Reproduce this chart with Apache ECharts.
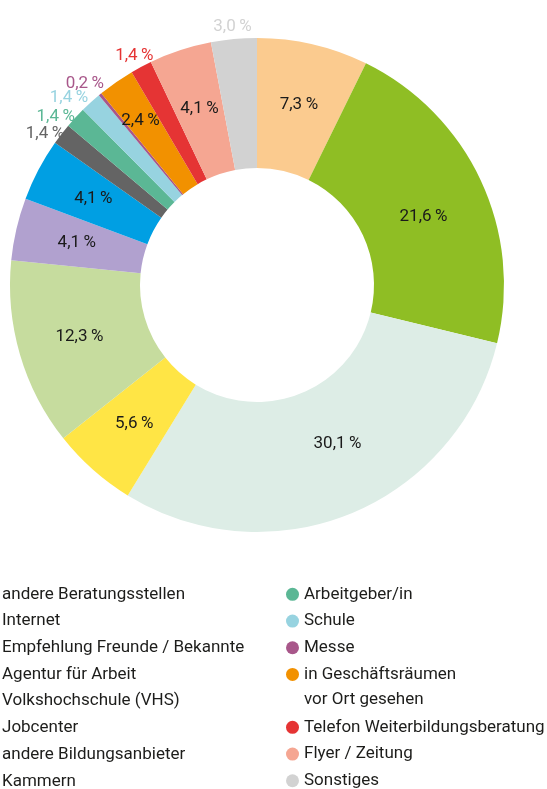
<!DOCTYPE html>
<html>
<head>
<meta charset="utf-8">
<script src="https://cdn.jsdelivr.net/npm/echarts@6/dist/echarts.min.js"></script>
<style>
  html, body { margin: 0; padding: 0; background: #fff; }
  #chart { width: 547px; height: 789px; }
</style>
</head>
<body>
<div id="chart"></div>
<script>
// Kategorien im Uhrzeigersinn ab 12 Uhr
var categories = [
  'andere Beratungsstellen', 'Internet', 'Empfehlung Freunde / Bekannte',
  'Agentur für Arbeit', 'Volkshochschule (VHS)', 'Jobcenter',
  'andere Bildungsanbieter', 'Kammern', 'Arbeitgeber/in', 'Schule', 'Messe',
  'in Geschäftsräumen', 'Telefon Weiterbildungsberatung', 'Flyer / Zeitung', 'Sonstiges'
]
var values = [7.3, 21.6, 30.1, 5.6, 12.3, 4.1, 4.1, 1.4, 1.4, 1.4, 0.2, 2.4, 1.4, 4.1, 3.0]
var colors = [
  '#fbcb8f', '#8fbe24', '#ddede6', '#ffe545', '#c6dc9e', '#b1a1cf',
  '#009fe3', '#646464', '#5bb795', '#97d3e0', '#a8578a',
  '#f29100', '#e53434', '#f5a692', '#d2d2d2'
]
// Beschriftung außerhalb des Rings
var outsideLabels = ['Kammern', 'Arbeitgeber/in', 'Schule', 'Messe', 'Telefon Weiterbildungsberatung', 'Sonstiges']

var legendLeft = categories.slice(0, 8)
var legendRightA = categories.slice(8, 12)
var legendRightB = categories.slice(12)

// kleine Verschiebungen der Beschriftungen (wie in der Vorlage)
var labelNudge = {
  'Internet': [-1, 10],
  'Empfehlung Freunde / Bekannte': [10, -12],
  'in Geschäftsräumen': [-11, -12],
  'Kammern': [-5, 8],
  'Arbeitgeber/in': [-9, 9],
  'Schule': [-12, 6],
  'Messe': [-6, 1]
}

function pct (v) {
  return v.toFixed(1).replace('.', ',') + '\u2009%'
}

var font = 'Roboto, "Liberation Sans", sans-serif'
var legendText = { fontFamily: font, fontSize: 17, color: '#1d1d1b', lineHeight: 26.7 }

var mainData = categories.map(function (name, i) {
  return {
    name: name,
    value: values[i],
    itemStyle: { color: colors[i] },
    label: { show: outsideLabels.indexOf(name) < 0, offset: labelNudge[name] || [0, 0] }
  }
})
var outerData = categories.map(function (name, i) {
  var out = outsideLabels.indexOf(name) >= 0
  return {
    name: name,
    value: values[i],
    label: { show: out, color: colors[i], offset: labelNudge[name] || [0, 2] }
  }
})

function legendBox (left, top, items) {
  return {
    orient: 'vertical',
    left: left,
    top: top,
    height: 260,
    padding: 0,
    itemWidth: 13,
    itemHeight: 13,
    itemGap: 0,
    icon: 'circle',
    selectedMode: false,
    data: items,
    textStyle: legendText
  }
}

var chart = echarts.init(document.getElementById('chart'))
var option = {
  animation: false,
  backgroundColor: '#fff',
  color: colors,
  legend: [
    legendBox(-16, 581, legendLeft),
    legendBox(286, 581, legendRightA),
    legendBox(286, 714, legendRightB)
  ],
  graphic: [
    {
      type: 'text',
      left: 304,
      top: 691,
      style: { text: 'vor Ort gesehen', font: '17px ' + font, fill: '#1d1d1b' }
    }
  ],
  series: [
    {
      type: 'pie',
      center: [257, 285],
      radius: [117, 247],
      startAngle: 90,
      clockwise: true,
      silent: true,
      avoidLabelOverlap: false,
      label: {
        position: 'inside',
        fontFamily: font,
        fontSize: 17,
        color: '#1a1a1a',
        formatter: function (p) { return pct(p.value) }
      },
      labelLine: { show: false },
      data: mainData
    },
    {
      type: 'pie',
      center: [257, 285],
      radius: [247, 270],
      startAngle: 90,
      clockwise: true,
      silent: true,
      avoidLabelOverlap: false,
      minShowLabelAngle: 0,
      labelLayout: { hideOverlap: false },
      itemStyle: { color: 'rgba(0,0,0,0)' },
      label: {
        position: 'inside',
        fontFamily: font,
        fontSize: 17,
        formatter: function (p) { return pct(p.value) }
      },
      labelLine: { show: false },
      data: outerData
    }
  ]
}
chart.setOption(option)
</script>
</body>
</html>
